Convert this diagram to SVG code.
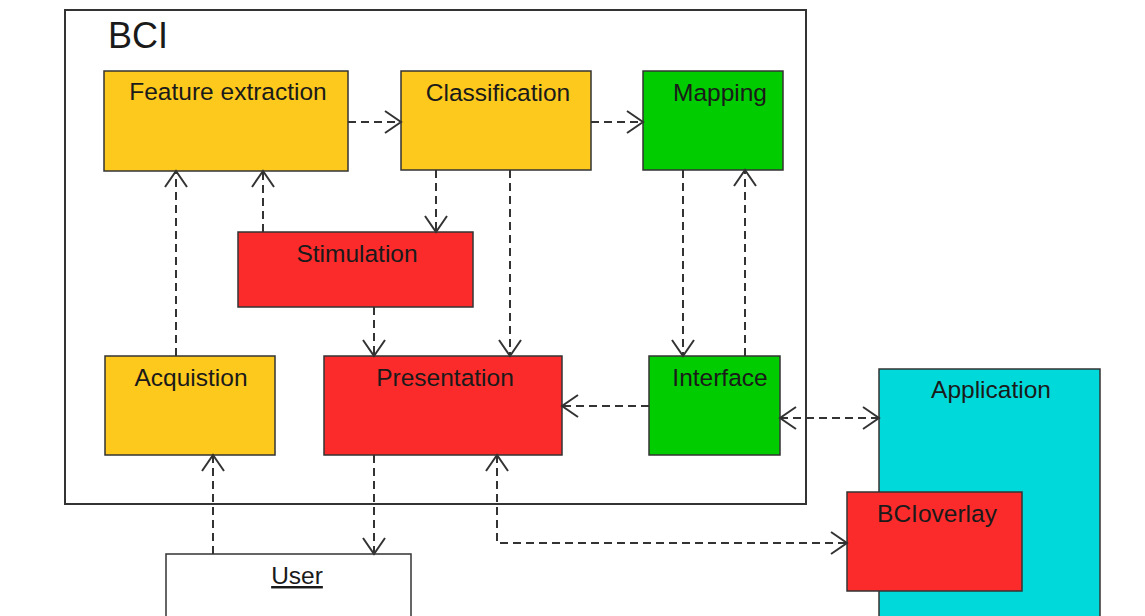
<svg xmlns="http://www.w3.org/2000/svg" width="1145" height="616" viewBox="0 0 1145 616">
<style>
.box{stroke:#333;stroke-width:1.5}
.y{fill:#fdc91c}.g{fill:#00cc00}.r{fill:#fc2b2b}.c{fill:#00d9d9}.w{fill:#fff}
.t{font-family:"Liberation Sans",Arial,sans-serif;font-size:24.5px;fill:#1a1a1a;text-anchor:middle}
.conn path{fill:none;stroke:#333;stroke-width:2;stroke-dasharray:8,5}
</style>
<defs>
<marker id="ah" markerUnits="userSpaceOnUse" markerWidth="24" markerHeight="26" refX="18" refY="12" orient="auto-start-reverse" viewBox="0 0 24 24">
<path d="M2,1 L18,12 L2,23" fill="none" stroke="#333" stroke-width="2"/>
</marker>
</defs>
<rect width="1145" height="616" fill="#fff"/>
<g id="bci">
<rect x="65" y="10" width="741" height="494" fill="#fff" stroke="#333" stroke-width="2"/>
<text x="108" y="48" style="font-family:'Liberation Sans',Arial,sans-serif;font-size:36px;fill:#1a1a1a">BCI</text>
</g>
<g id="feature-extraction"><rect class="box y" x="104" y="71" width="244" height="100"/><text class="t" x="228" y="100">Feature extraction</text></g>
<g id="classification"><rect class="box y" x="401" y="71" width="190" height="99"/><text class="t" x="498" y="101">Classification</text></g>
<g id="mapping"><rect class="box g" x="643" y="71" width="140" height="99"/><text class="t" x="720" y="101">Mapping</text></g>
<g id="stimulation"><rect class="box r" x="238" y="232" width="235" height="75"/><text class="t" x="357" y="262">Stimulation</text></g>
<g id="acquistion"><rect class="box y" x="105" y="356" width="170" height="99"/><text class="t" x="191" y="386">Acquistion</text></g>
<g id="presentation"><rect class="box r" x="324" y="356" width="238" height="99"/><text class="t" x="445" y="386">Presentation</text></g>
<g id="interface"><rect class="box g" x="649" y="356" width="131" height="99"/><text class="t" x="720" y="386">Interface</text></g>
<g id="application"><rect class="box c" x="879" y="369" width="221" height="260"/><text class="t" x="991" y="398">Application</text></g>
<g id="bcioverlay"><rect class="box r" x="847" y="492" width="175" height="99"/><text class="t" x="937" y="522">BCIoverlay</text></g>
<g id="user"><rect class="box w" x="166" y="554" width="245" height="75"/><text class="t" x="297" y="584" text-decoration="underline">User</text></g>
<g class="conn" id="connectors">
<path d="M348,122 H401" marker-end="url(#ah)"/>
<path d="M591,122 H643" marker-end="url(#ah)"/>
<path d="M436,170 V232" marker-end="url(#ah)"/>
<path d="M510,170 V356" marker-end="url(#ah)"/>
<path d="M683,170 V356" marker-end="url(#ah)"/>
<path d="M745,356 V170" marker-end="url(#ah)"/>
<path d="M263,232 V171" marker-end="url(#ah)"/>
<path d="M176,356 V171" marker-end="url(#ah)"/>
<path d="M374,307 V356" marker-end="url(#ah)"/>
<path d="M649,406 H562" marker-end="url(#ah)"/>
<path d="M780,418 H879" marker-start="url(#ah)" marker-end="url(#ah)"/>
<path d="M213,554 V455" marker-end="url(#ah)"/>
<path d="M374,455 V554" marker-end="url(#ah)"/>
<path d="M497,455 V543 H847" marker-start="url(#ah)" marker-end="url(#ah)"/>
</g>
</svg>
